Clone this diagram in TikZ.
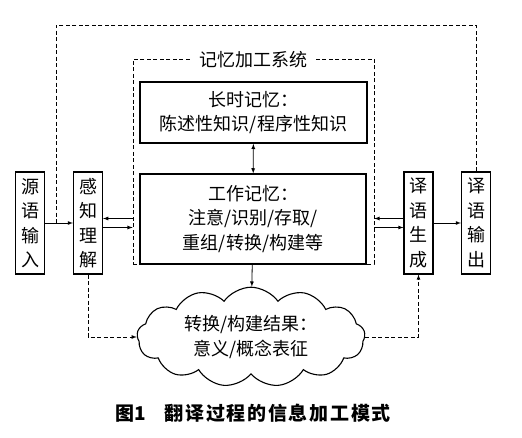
\documentclass[tikz,border=0pt]{standalone}
\usepackage{fontspec}
\setmainfont{Noto Sans CJK SC}
\usetikzlibrary{arrows,positioning,calc,shapes.symbols}

\begin{document}
\begin{tikzpicture}[x=1pt,y=-1pt,
			txt/.style={font=\fontsize{18}{24.5}\selectfont},
			box/.style={txt,draw=black,line width=1.1pt,inner sep=0pt,align=center},
			vbox/.style={box,minimum width=29pt,minimum height=102pt},
			dsh/.style={dash pattern=on 4pt off 2.5pt,line width=0.7pt},
			arr/.style={-latex,line width=0.8pt}]
		\fill[white] (0,0) rectangle (522,438);
		\useasboundingbox (0,0) rectangle (522,438);
		% memory system frame
		\node 	(mem) 	[draw,dsh,minimum width=241pt,minimum height=205pt] 	at (253.5,161.5) {};
		\node 	(ttl) 	[txt,fill=white,inner xsep=9pt,inner ysep=1pt] 	at (253,60) {记忆加工系统};
		\path 	(30,223) 	node 	(src) 	[vbox] {源\\语\\输\\入}
		        (88,223) 	node 	(perc) 	[vbox] {感\\知\\理\\解}
		        (418.5,223) node 	(gen) 	[vbox] {译\\语\\生\\成}
		        (476,223) 	node 	(out) 	[vbox] {译\\语\\输\\出}
		        (253.5,112.5) node 	(ltm) 	[box,line width=1.6pt,minimum width=227pt,minimum height=61pt] {长时记忆：\\陈述性知识/程序性知识}
		        (253,219) 	node 	(wm) 	[box,minimum width=226pt,minimum height=90pt] {工作记忆：\\注意/识别/存取/\\重组/转换/构建等}
		        (251,337) 	node 	(res) 	[txt,draw,line width=1.1pt,cloud,cloud puffs=13,cloud puff arc=110,aspect=2.4,
		                                 minimum width=228pt,minimum height=92pt,inner sep=0pt,align=center] {转换/构建结果：\\意义/概念表征}
		        (253,413) 	node 	(cap) 	[font=\fontsize{19}{23}\selectfont\bfseries] {图1\hspace{1em}\addfontfeature{LetterSpace=9}翻译过程的信息加工模式};
		\path 	([yshift=4.5pt]perc.east) coordinate (p1) ([yshift=-4.5pt]perc.east) coordinate (p2)
		        ([yshift=4.5pt]gen.west) coordinate (g1) ([yshift=-4.5pt]gen.west) coordinate (g2)
		        (56,223) coordinate (fb) (56,25) coordinate (tp);
		\draw [arr] (src) -- (perc);
		\draw [arr] (mem.west |- p1) -- (p1);
		\draw [arr] (p2) -- (mem.west |- p2);
		\draw [arr] (g1) -- (mem.east |- g1);
		\draw [arr] (mem.east |- g2) -- (g2);
		\draw [arr] (gen) -- (out);
		\draw [latex-latex,line width=0.8pt] (ltm) -- (wm);
		\draw [arr] (wm) -- (res);
		\draw [dsh,arr] (perc.south) |- (res.west);
		\draw [dsh,arr] (res.east) -| (gen.south);
		\draw [dsh] (out.north) |- (tp) -- (fb);
	\end{tikzpicture}
\end{document}
